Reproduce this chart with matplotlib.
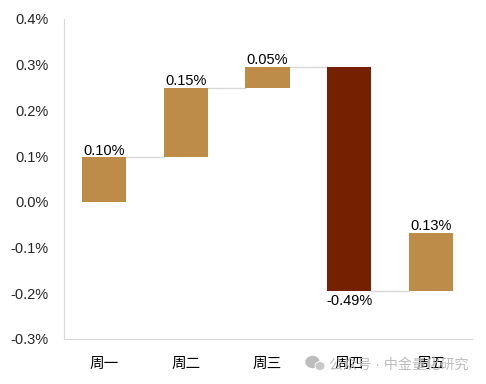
import numpy as np
import matplotlib
matplotlib.use("Agg")
import matplotlib.pyplot as plt
from matplotlib.patches import Ellipse

plt.rcParams['font.family'] = ['Liberation Sans', 'Noto Sans CJK SC', 'DejaVu Sans']

# dados
dias = ["周一", "周二", "周三", "周四", "周五"]
variacao = [0.098, 0.151, 0.046, -0.49, 0.127]
rotulos = ["0.10%", "0.15%", "0.05%", "-0.49%", "0.13%"]
ticks_y = [-0.3, -0.2, -0.1, 0.0, 0.1, 0.2, 0.3, 0.4]

DOURADO = "#BC8C48"
MARROM = "#752000"
CINZA = "#D9D9D9"

W, H = 486, 384
fig = plt.figure(figsize=(W / 100, H / 100), dpi=100)
# left, bottom, width, height em pixels da imagem
ax = fig.add_axes([63.5 / W, (H - 339) / H, 408 / W, 320 / H])

x = np.arange(len(dias))
fim = np.cumsum(variacao)
inicio = fim - np.array(variacao)

cores = [DOURADO if v > 0 else MARROM for v in variacao]
ax.bar(x, variacao, bottom=inicio, width=0.54, color=cores, zorder=3)

# linhas de ligacao entre as barras
for i in range(len(dias) - 1):
    ax.plot([i + 0.27, i + 1 - 0.27], [fim[i], fim[i]], color=CINZA, lw=1, zorder=2)

for i in range(len(dias)):
    if variacao[i] > 0:
        ax.text(x[i], fim[i] - 0.001, rotulos[i], ha="center", va="bottom", fontsize=10.5, color="black")
    else:
        ax.text(x[i], fim[i] - 0.007, rotulos[i], ha="center", va="top", fontsize=10.5, color="black")

ax.set_xlim(-0.5, len(dias) - 0.5)
ax.set_ylim(-0.3, 0.4)
ax.set_xticks(x)
ax.set_xticklabels(dias, fontsize=10.5, color="black")
ax.set_yticks(ticks_y)
ax.set_yticklabels([f"{t:.1f}%" for t in ticks_y], fontsize=10.5, color="#262626")
ax.tick_params(axis="both", length=0)
ax.tick_params(axis="x", pad=13)
ax.tick_params(axis="y", pad=10.5)

ax.spines["top"].set_visible(False)
ax.spines["right"].set_visible(False)
ax.spines["left"].set_color(CINZA)
ax.spines["bottom"].set_color(CINZA)

# marca d'agua
CINZA_MARCA = "#BDBDBD"
fig.text(329 / W, (H - 364.5) / H, "公众号 · 中金量化研究", fontsize=10.2, color=CINZA_MARCA,
         ha="left", va="center", zorder=1)
fig.add_artist(Ellipse((312.5 / W, (H - 362) / H), 13 / W, 11 / H, color=CINZA_MARCA, transform=fig.transFigure))
fig.add_artist(Ellipse((320 / W, (H - 366) / H), 10 / W, 9 / H, color="#C8C8C8", ec="white", lw=0.6, transform=fig.transFigure))

fig.savefig("out.png", dpi=100)
